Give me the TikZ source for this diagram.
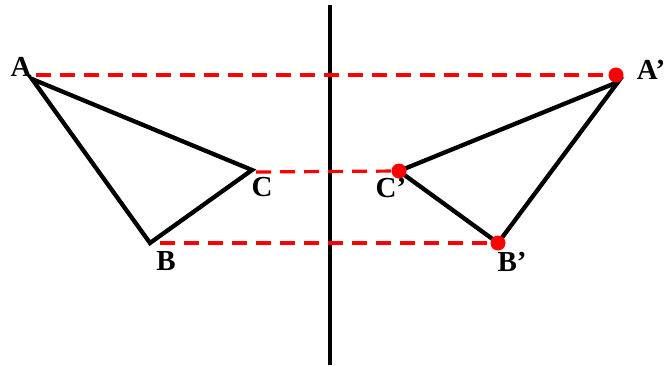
\documentclass[tikz,border=0pt]{standalone}
\usepackage{fontspec}
\setmainfont{Liberation Serif}
\begin{document}
\begin{tikzpicture}[x=1pt,y=-1pt,
  tri/.style={line width=4.3pt,line join=miter},
  mirror/.style={line width=3.3pt},
  proj/.style={red,line width=3.2pt,dash pattern=on 15pt off 9pt},
  dot/.style={circle,fill=red,inner sep=0pt,minimum size=15pt},
  lab/.style={font=\fontsize{29}{29}\selectfont\bfseries,inner sep=0pt}]
\useasboundingbox (0,0) rectangle (665,365);
\coordinate (A) at (32,79);
\coordinate (B) at (150,243);
\coordinate (C) at (252,170);
\coordinate (A1) at (618,82);
\coordinate (B1) at (498,243);
\coordinate (C1) at (399,171);
\coordinate (m1) at (330,5);
\coordinate (m2) at (330,365);
\coordinate (pA) at (36,75);
\coordinate (pA1) at (616,75);
\coordinate (pC) at (256,172);
\coordinate (pB) at (160,243);
\draw[mirror] (m1) -- (m2);
\draw[proj] (pA) -- (pA1);
\draw[proj] (pC) -- (C1);
\draw[proj] (pB) -- (B1);
\draw[tri] (A) -- (B) -- (C) -- cycle;
\draw[tri] (A1) -- (B1) -- (C1) -- cycle;
\node[dot] (dA1) at (pA1) {};
\node[dot] (dC1) at (C1) {};
\node[dot] (dB1) at (B1) {};
\node[lab] (lA) at (21,67) {A};
\node[lab] (lB) at (166,261) {B};
\node[lab] (lC) at (262,187) {C};
\node[lab] (lA1) at (651,70) {A’};
\node[lab] (lB1) at (512,262) {B’};
\node[lab] (lC1) at (391,188) {C’};
\end{tikzpicture}
\end{document}
